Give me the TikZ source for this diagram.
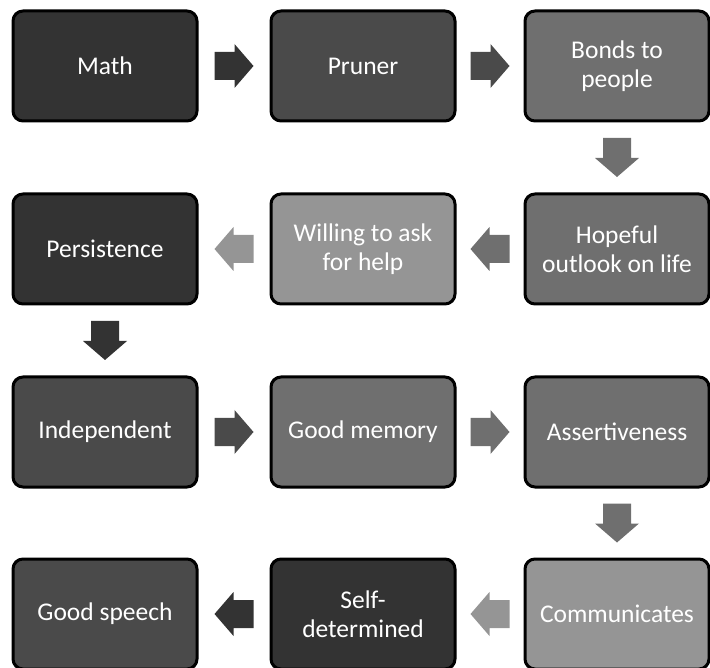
\documentclass[tikz,border=0pt]{standalone}
\usepackage{fontspec}
\setmainfont{Carlito}
\usetikzlibrary{calc}
\definecolor{cA}{HTML}{333333}
\definecolor{cB}{HTML}{4A4A4A}
\definecolor{cC}{HTML}{6F6F6F}
\definecolor{cD}{HTML}{959595}
\tikzset{
  box/.style={draw=black, line width=3pt, rounded corners=10pt, minimum width=184pt, minimum height=110pt, text=white, align=center, font=\fontsize{25.5}{29}\selectfont, inner sep=2pt},
  flowarrow/.pic={\fill (-19.5,-14) -- (0.5,-14) -- (0.5,-22) -- (19.5,0) -- (0.5,22) -- (0.5,14) -- (-19.5,14) -- cycle;}
}
\begin{document}
\begin{tikzpicture}[x=1pt,y=-1pt]
\useasboundingbox (0,0) rectangle (710,668);
\node[box, fill=cA] (math) at (105,66) {Math};
\node[box, fill=cB] (pruner) at (363,66) {Pruner};
\node[box, fill=cC] (bonds) at (617,66) {Bonds to\\people};
\node[box, fill=cC] (hope) at (617,249) {Hopeful\\outlook on life};
\node[box, fill=cD] (will) at (363,249) {Willing to ask\\for help};
\node[box, fill=cA] (pers) at (105,249) {Persistence};
\node[box, fill=cB] (indep) at (105,432) {Independent};
\node[box, fill=cC] (mem) at (363,432) {Good memory};
\node[box, fill=cC] (assert) at (617,432) {Assertiveness};
\node[box, fill=cD] (comm) at (617,614) {Communicates};
\node[box, fill=cA] (selfd) at (363,614) {Self-\\determined};
\node[box, fill=cB] (speech) at (105,614) {Good speech};
\path[fill=cA] ($(math.east)!0.5!(pruner.west)$) pic {flowarrow};
\path[fill=cB] ($(pruner.east)!0.5!(bonds.west)$) pic {flowarrow};
\path[fill=cC] ($(bonds.south)!0.5!(hope.north)$) pic[rotate=-90] {flowarrow};
\path[fill=cC] ($(hope.west)!0.5!(will.east)$) pic[rotate=180] {flowarrow};
\path[fill=cD] ($(will.west)!0.5!(pers.east)$) pic[rotate=180] {flowarrow};
\path[fill=cA] ($(pers.south)!0.5!(indep.north)$) pic[rotate=-90] {flowarrow};
\path[fill=cB] ($(indep.east)!0.5!(mem.west)$) pic {flowarrow};
\path[fill=cC] ($(mem.east)!0.5!(assert.west)$) pic {flowarrow};
\path[fill=cC] ($(assert.south)!0.5!(comm.north)$) pic[rotate=-90] {flowarrow};
\path[fill=cD] ($(comm.west)!0.5!(selfd.east)$) pic[rotate=180] {flowarrow};
\path[fill=cA] ($(selfd.west)!0.5!(speech.east)$) pic[rotate=180] {flowarrow};
\end{tikzpicture}
\end{document}
